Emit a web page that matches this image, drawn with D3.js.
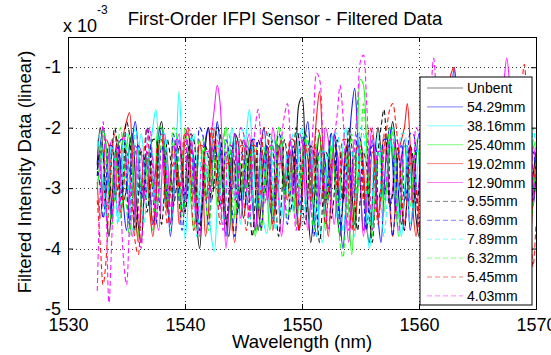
<!DOCTYPE html>
<html>
<head>
<meta charset="utf-8">
<script src="https://cdn.jsdelivr.net/npm/d3@7"></script>
<style>
  body { margin: 0; background: #fff; }
  svg { display: block; font-family: "Liberation Sans", Arial, sans-serif; }
</style>
</head>
<body>
<script>
// Wavelength sampling of the filtered traces (nm)
var wavelengthStart = 1532.5;
var wavelengthStep = 0.25;

// Legend names, one per trace
var seriesNames = ["Unbent", "54.29mm", "38.16mm", "25.40mm", "19.02mm", "12.90mm",
                   "9.55mm", "8.69mm", "7.89mm", "6.32mm", "5.45mm", "4.03mm"];

var xTicks = [1530, 1540, 1550, 1560, 1570];
var yTicks = [-1, -2, -3, -4, -5];

// Filtered intensity values, in units of 1e-3
var unbent = [
  -2.6,-2.0,-2.4,-3.3,-3.8,-3.2,-2.5,-2.2,-2.7,-3.2,
  -3.0,-2.3,-2.1,-2.8,-3.6,-3.9,-3.1,-2.4,-2.6,-3.0,
  -2.7,-2.1,-1.9,-2.5,-3.3,-3.6,-2.9,-2.5,-2.9,-3.4,
  -3.1,-2.4,-2.2,-2.8,-3.6,-4.0,-3.2,-2.3,-2.0,-2.5,
  -3.0,-2.8,-2.4,-2.7,-3.5,-3.8,-3.0,-2.1,-2.2,-2.9,
  -3.5,-3.1,-2.4,-2.2,-2.9,-3.7,-3.3,-2.5,-2.3,-2.8,
  -3.3,-2.9,-2.3,-2.5,-3.1,-2.8,-2.4,-2.9,-2.3,-1.6,
  -1.5,-2.3,-3.3,-3.9,-3.4,-2.5,-2.1,-2.8,-3.3,-2.7,
  -2.1,-2.5,-3.4,-3.8,-3.2,-2.4,-2.2,-3.0,-3.6,-3.0,
  -2.4,-2.8,-3.6,-3.9,-3.3,-2.4,-2.0,-2.4,-3.1,-2.9,
  -2.3,-1.9,-2.3,-3.1,-3.6,-3.2,-2.6,-2.3,-2.8,-3.5,
  -3.8,-3.2,-2.3,-2.0,-2.5,-3.3,-3.0,-2.5,-2.8,-3.3,
  -2.7,-2.1,-2.4,-3.1,-3.7,-3.3,-2.5,-2.2,-2.9,-3.6,
  -3.1,-2.4,-2.0,-2.6,-3.4,-3.1,-2.5,-2.8,-3.4,-2.8,
  -2.2,-1.9,-2.5,-3.4,-3.8,-3.1,-2.4,-2.6,-3.3,-2.8,-2.4];
var bent5429 = [
  -2.7,-2.3,-2.0,-2.3,-3.0,-3.5,-2.9,-2.3,-2.6,-3.3,
  -3.7,-3.1,-2.2,-1.9,-2.4,-3.2,-3.0,-2.5,-3.0,-3.6,
  -3.2,-2.4,-2.0,-2.3,-3.0,-3.8,-3.3,-2.5,-2.2,-2.6,
  -3.2,-2.8,-2.3,-2.5,-3.2,-3.6,-3.0,-2.2,-2.0,-2.6,
  -2.4,-1.9,-2.3,-3.2,-3.8,-3.3,-2.5,-2.1,-2.7,-3.2,
  -2.9,-2.3,-2.4,-3.2,-3.7,-3.1,-2.3,-2.0,-2.6,-3.3,
  -3.5,-3.0,-2.4,-2.6,-3.1,-2.8,-2.2,-2.5,-3.3,-3.7,
  -3.1,-2.2,-1.9,-2.6,-3.4,-3.8,-3.1,-2.3,-2.6,-3.2,
  -2.7,-2.1,-2.7,-3.5,-4.0,-3.3,-2.4,-1.7,-1.35,-2.1,
  -3.0,-3.7,-3.3,-2.5,-2.2,-2.8,-3.5,-3.9,-3.1,-2.3,
  -2.0,-2.6,-3.4,-3.1,-2.5,-2.2,-2.8,-3.7,-3.3,-2.5,
  -2.1,-2.4,-3.1,-3.6,-3.0,-2.3,-1.9,-2.1,-2.7,-3.3,
  -2.5,-1.6,-1.0,-1.7,-2.6,-3.5,-3.2,-2.5,-2.3,-2.9,
  -3.5,-3.0,-2.3,-2.5,-3.3,-3.8,-3.1,-2.2,-2.3,-2.9,
  -3.3,-2.8,-2.1,-2.4,-3.1,-3.6,-3.0,-2.4,-2.8,-3.3,-2.8];
var bent3816 = [
  -2.2,-2.4,-3.1,-3.5,-2.9,-2.2,-2.6,-3.5,-3.2,-2.4,
  -2.1,-2.8,-3.7,-3.3,-2.5,-2.1,-2.5,-3.1,-2.4,-2.0,
  -1.7,-2.3,-3.3,-3.2,-2.6,-2.9,-3.1,-2.3,-1.4,-2.5,
  -3.85,-3.3,-2.4,-2.1,-2.6,-3.4,-3.1,-2.6,-3.2,-3.8,
  -4.05,-3.3,-2.4,-2.5,-3.1,-2.7,-2.0,-2.3,-3.1,-3.6,
  -2.8,-2.1,-1.7,-2.3,-3.0,-3.4,-3.1,-3.6,-3.75,-3.0,
  -2.2,-2.3,-3.0,-3.5,-3.0,-2.4,-2.6,-3.4,-3.1,-2.3,
  -2.0,-2.8,-3.6,-3.2,-2.5,-2.9,-3.6,-3.9,-3.1,-2.4,
  -2.1,-2.7,-3.5,-3.1,-2.3,-2.0,-2.6,-3.5,-3.8,-3.0,
  -2.4,-2.8,-3.4,-4.0,-3.6,-2.6,-2.1,-2.5,-3.2,-3.0,
  -2.4,-2.0,-2.5,-3.4,-3.8,-3.1,-2.4,-2.7,-3.4,-3.0,
  -2.5,-2.7,-3.4,-2.8,-2.2,-2.5,-3.5,-3.2,-2.4,-1.9,
  -1.3,-1.8,-2.7,-3.5,-3.1,-2.4,-2.6,-3.3,-2.9,-2.2,
  -2.4,-3.3,-3.7,-3.0,-2.2,-2.4,-3.1,-2.9,-2.3,-2.6,
  -3.4,-3.8,-3.1,-2.3,-2.5,-3.2,-3.0,-2.2,-2.4,-3.1,-2.7];
var bent2540 = [
  -3.0,-2.5,-2.0,-2.3,-3.1,-3.0,-2.4,-2.6,-3.5,-3.0,
  -2.3,-2.1,-2.7,-3.5,-3.8,-3.1,-2.5,-2.8,-3.4,-3.7,
  -2.9,-2.0,-2.0,-2.8,-3.4,-2.9,-2.2,-2.5,-3.2,-2.7,
  -2.0,-2.4,-3.2,-3.7,-3.1,-2.3,-2.4,-3.2,-2.8,-2.1,
  -2.5,-3.3,-3.0,-2.2,-2.0,-2.7,-3.7,-3.4,-2.6,-2.6,
  -3.1,-2.6,-2.2,-2.9,-3.8,-3.4,-2.6,-2.3,-3.0,-3.7,
  -3.3,-2.4,-2.0,-2.5,-3.2,-2.9,-2.5,-2.9,-3.6,-3.2,
  -2.5,-2.1,-2.5,-3.3,-3.1,-2.3,-2.1,-2.9,-3.7,-3.1,
  -2.3,-2.7,-3.4,-3.0,-2.4,-2.5,-3.4,-4.1,-3.3,-2.1,
  -1.2,-1.3,-2.2,-3.2,-3.7,-3.1,-2.4,-2.6,-3.4,-2.9,
  -2.1,-2.4,-3.2,-3.8,-3.1,-2.3,-2.5,-3.3,-2.9,-2.2,
  -2.5,-3.4,-3.7,-3.0,-2.2,-2.4,-3.1,-2.8,-2.1,-2.5,
  -3.3,-3.6,-3.0,-2.4,-2.6,-3.4,-3.0,-2.2,-2.5,-3.3,
  -3.8,-3.1,-2.2,-2.4,-3.1,-2.9,-2.3,-2.6,-3.5,-3.0,
  -2.2,-2.5,-3.3,-3.9,-3.2,-2.3,-2.5,-3.1,-2.9,-2.2,-2.4];
var bent1902 = [
  -2.9,-3.5,-3.0,-2.2,-2.3,-3.2,-3.2,-2.5,-2.4,-2.1,
  -1.9,-1.75,-2.4,-3.3,-3.9,-3.3,-2.5,-2.6,-3.4,-3.8,
  -3.3,-2.3,-2.1,-2.9,-3.4,-2.9,-2.3,-2.7,-3.6,-3.1,
  -2.2,-2.0,-2.8,-3.3,-2.8,-2.2,-2.7,-3.8,-3.4,-2.4,
  -2.0,-2.6,-3.3,-3.1,-2.4,-2.6,-3.5,-3.9,-3.1,-2.3,
  -2.3,-2.9,-2.8,-2.2,-2.5,-3.3,-3.7,-3.0,-2.3,-2.7,
  -3.7,-3.3,-2.4,-2.2,-2.9,-3.2,-2.7,-2.4,-3.1,-3.7,
  -3.1,-2.3,-2.5,-3.1,-2.5,-1.8,-1.4,-2.2,-3.3,-3.8,
  -3.1,-2.3,-2.4,-3.2,-3.0,-2.3,-2.6,-3.4,-3.7,-3.0,
  -2.2,-2.6,-3.4,-3.1,-2.4,-2.6,-3.5,-2.9,-2.1,-2.4,
  -3.3,-3.8,-3.2,-2.4,-2.2,-2.0,-1.6,-2.3,-3.4,-3.8,
  -3.2,-2.3,-2.4,-3.2,-3.0,-2.4,-2.6,-3.3,-2.7,-2.1,
  -1.5,-1.1,-1.0,-1.8,-2.8,-3.5,-3.0,-2.3,-2.5,-3.4,
  -3.0,-2.2,-2.4,-3.2,-3.7,-3.1,-2.4,-2.5,-3.3,-3.0,
  -2.2,-2.3,-3.1,-3.6,-3.1,-2.4,-2.6,-3.4,-3.9,-3.1,-2.5];
var bent1290 = [
  -2.4,-2.6,-3.3,-3.1,-2.4,-2.2,-2.9,-3.4,-2.8,-2.1,
  -2.6,-3.5,-3.8,-3.1,-2.3,-2.4,-3.2,-3.0,-2.3,-2.5,
  -3.4,-3.7,-2.9,-2.1,-2.5,-3.3,-3.1,-2.3,-2.1,-2.9,
  -3.4,-2.8,-2.2,-2.6,-3.4,-3.8,-3.1,-2.4,-2.4,-2.1,
  -1.7,-1.3,-1.6,-2.8,-4.0,-3.4,-2.5,-2.1,-2.8,-3.5,
  -3.1,-2.3,-2.1,-2.9,-3.7,-3.2,-2.4,-2.5,-3.2,-2.9,
  -2.0,-2.3,-3.2,-3.8,-3.3,-2.5,-2.4,-3.1,-2.9,-2.1,
  -2.2,-3.1,-3.7,-3.2,-2.3,-2.4,-3.3,-3.0,-2.0,-2.2,
  -3.1,-3.6,-3.1,-2.4,-2.6,-3.4,-3.9,-3.1,-2.2,-2.3,
  -3.0,-3.8,-3.3,-2.4,-2.0,-2.5,-3.4,-3.2,-2.3,-2.5,
  -3.3,-3.0,-2.2,-2.3,-3.2,-3.7,-3.1,-2.4,-2.5,-3.2,
  -2.9,-2.0,-2.1,-2.9,-3.6,-3.1,-2.4,-2.6,-3.3,-2.9,
  -2.1,-2.3,-3.2,-3.7,-3.1,-2.3,-2.5,-3.3,-3.0,-2.3,
  -2.3,-3.2,-3.6,-3.0,-2.3,-2.5,-3.3,-2.6,-2.0,-1.3,
  -0.85,-1.3,-2.3,-3.4,-3.2,-2.4,-2.5,-3.4,-3.1,-2.3,-2.6];
var bent955 = [
  -2.8,-2.4,-2.5,-3.3,-3.2,-2.4,-2.0,-2.4,-3.2,-2.7,
  -1.9,-2.1,-3.1,-3.7,-3.2,-2.4,-2.5,-3.4,-3.0,-2.2,
  -2.2,-3.1,-3.6,-3.0,-2.2,-2.5,-3.3,-3.0,-2.3,-2.6,
  -3.4,-3.0,-2.1,-2.2,-3.1,-3.7,-3.2,-2.3,-2.5,-3.2,
  -2.9,-2.0,-2.1,-3.0,-3.6,-3.1,-2.3,-2.6,-3.4,-3.0,
  -2.2,-2.4,-3.2,-3.8,-3.2,-2.2,-2.4,-3.1,-2.9,-2.1,
  -2.3,-3.2,-3.8,-3.2,-2.2,-2.5,-3.4,-3.0,-2.0,-2.2,
  -3.1,-3.6,-3.1,-2.3,-2.4,-3.3,-3.9,-3.3,-2.4,-2.5,
  -3.5,-3.1,-2.2,-2.4,-3.2,-2.9,-2.0,-2.3,-3.2,-3.7,
  -3.1,-2.4,-2.6,-3.4,-3.9,-3.3,-2.4,-2.0,-1.7,-2.4,
  -3.3,-3.1,-2.3,-2.4,-3.2,-3.7,-3.1,-2.3,-2.5,-3.3,
  -3.0,-2.2,-2.4,-3.2,-3.6,-3.0,-2.2,-2.5,-3.3,-3.0,
  -2.0,-2.2,-3.1,-3.6,-3.1,-2.3,-2.6,-3.4,-2.9,-2.1,
  -2.3,-3.2,-3.8,-3.1,-2.2,-2.5,-3.3,-2.9,-2.1,-2.4,
  -3.2,-3.6,-3.0,-2.2,-2.5,-3.3,-2.9,-2.1,-2.4,-3.2,-2.8];
var bent869 = [
  -2.6,-3.0,-3.5,-3.1,-2.3,-2.3,-3.1,-3.0,-2.2,-2.2,
  -2.9,-3.6,-3.2,-2.4,-2.3,-3.1,-2.9,-2.0,-2.2,-3.1,
  -3.6,-3.1,-2.3,-2.5,-3.2,-2.9,-2.1,-2.4,-3.2,-3.7,
  -3.1,-2.2,-2.3,-3.1,-2.9,-2.0,-2.1,-3.0,-3.6,-3.1,
  -2.3,-2.5,-3.3,-3.0,-2.2,-2.4,-3.3,-3.8,-3.3,-2.4,
  -2.5,-3.3,-3.1,-2.2,-2.2,-3.1,-3.7,-3.1,-2.3,-2.5,
  -3.2,-3.0,-2.1,-2.2,-3.0,-3.6,-3.1,-2.3,-2.5,-3.3,
  -3.0,-2.1,-2.2,-3.1,-3.8,-3.3,-2.4,-2.4,-3.2,-3.0,
  -2.1,-2.1,-2.9,-3.6,-3.2,-2.4,-2.3,-3.2,-3.0,-2.1,
  -2.2,-3.1,-3.7,-3.2,-2.3,-2.3,-3.2,-3.0,-2.2,-2.2,
  -3.1,-3.8,-3.3,-2.4,-2.3,-3.2,-3.0,-2.1,-2.1,-3.0,
  -3.6,-3.2,-2.3,-2.4,-3.2,-3.0,-2.2,-2.2,-3.1,-3.7,
  -3.2,-2.3,-2.3,-3.2,-3.0,-2.0,-2.1,-3.0,-3.6,-3.1,
  -2.3,-2.4,-3.2,-3.0,-2.2,-2.2,-3.1,-3.7,-3.2,-2.3,
  -2.4,-3.2,-3.0,-2.1,-2.1,-3.0,-3.6,-3.2,-2.4,-2.4,-3.0];
var bent789 = [
  -2.3,-2.1,-2.6,-3.4,-3.0,-2.3,-2.6,-3.6,-3.1,-2.2,
  -2.4,-3.1,-2.9,-2.0,-2.3,-3.1,-3.6,-3.0,-2.2,-2.5,
  -3.3,-3.1,-2.1,-2.1,-3.0,-3.7,-3.2,-2.4,-2.5,-3.3,
  -3.0,-2.1,-2.2,-3.1,-3.8,-3.3,-2.4,-2.4,-3.1,-2.9,
  -2.0,-2.1,-3.0,-3.6,-3.2,-2.4,-2.4,-3.2,-3.0,-2.0,
  -2.1,-3.0,-3.6,-3.2,-2.4,-2.4,-3.2,-3.0,-2.1,-2.1,
  -3.0,-3.7,-3.2,-2.3,-2.3,-3.1,-3.0,-2.1,-2.1,-3.0,
  -3.6,-3.2,-2.4,-2.4,-3.2,-3.8,-3.3,-2.4,-2.4,-3.2,
  -3.0,-2.1,-2.1,-3.0,-3.7,-3.2,-2.4,-2.4,-3.2,-3.0,
  -2.0,-2.1,-3.0,-3.6,-3.2,-2.4,-2.4,-3.2,-3.8,-3.3,
  -2.3,-2.3,-3.1,-3.0,-2.1,-2.1,-3.0,-3.6,-3.2,-2.4,
  -2.4,-3.2,-3.0,-2.0,-2.1,-3.0,-3.6,-3.2,-2.4,-2.4,
  -3.2,-3.0,-2.1,-2.1,-3.0,-3.7,-3.2,-2.4,-2.4,-3.2,
  -3.0,-2.0,-2.1,-3.0,-3.6,-3.2,-2.4,-2.4,-3.2,-3.0,
  -2.1,-2.1,-3.0,-3.7,-3.2,-2.4,-2.4,-3.2,-3.0,-2.0,-2.3];
var bent632 = [
  -3.0,-2.6,-2.1,-2.4,-3.2,-3.6,-3.1,-2.3,-2.0,-2.5,
  -3.3,-3.8,-3.2,-2.3,-2.4,-3.0,-2.9,-2.5,-2.6,-3.0,
  -3.5,-3.1,-2.2,-2.3,-3.2,-3.0,-2.0,-2.1,-3.0,-3.5,
  -3.2,-2.7,-2.7,-3.0,-2.8,-2.2,-2.2,-3.1,-3.7,-3.2,
  -2.4,-2.3,-3.2,-3.0,-2.0,-2.1,-3.0,-3.5,-3.1,-2.6,
  -2.6,-3.0,-2.8,-2.3,-2.3,-3.1,-3.7,-3.2,-2.4,-2.3,
  -3.2,-3.0,-2.0,-2.1,-3.0,-3.5,-3.1,-2.7,-2.7,-3.0,
  -2.8,-2.2,-2.2,-3.1,-3.7,-3.2,-2.4,-2.3,-3.2,-3.0,
  -2.3,-2.6,-3.3,-3.9,-4.15,-3.4,-2.5,-2.1,-2.5,-3.1,
  -2.4,-1.6,-2.2,-3.2,-3.8,-3.2,-2.4,-2.3,-3.2,-3.0,
  -2.0,-2.1,-3.0,-3.5,-3.1,-2.6,-2.6,-3.0,-2.8,-2.3,
  -2.3,-3.1,-3.7,-3.2,-2.4,-2.3,-3.2,-3.0,-2.0,-2.1,
  -3.0,-3.5,-3.1,-2.6,-2.6,-3.0,-2.8,-2.2,-2.2,-3.1,
  -3.7,-3.2,-2.4,-2.3,-3.2,-3.0,-2.0,-2.1,-3.0,-3.5,
  -3.1,-2.6,-2.6,-3.0,-2.8,-2.3,-2.3,-3.1,-3.7,-3.2,-2.6];
var bent545 = [
  -3.2,-3.9,-4.6,-4.2,-3.2,-2.4,-2.1,-2.7,-3.4,-3.0,
  -2.4,-2.7,-3.3,-3.9,-4.1,-3.3,-2.4,-2.0,-2.7,-3.6,
  -3.2,-2.2,-2.2,-3.1,-3.6,-3.1,-2.6,-2.6,-3.0,-2.8,
  -2.1,-2.1,-2.9,-3.7,-3.2,-2.3,-2.3,-3.2,-3.0,-2.0,
  -2.2,-3.0,-3.6,-3.1,-2.6,-2.6,-3.0,-2.8,-2.2,-2.2,
  -3.1,-3.7,-3.2,-2.3,-2.3,-3.2,-3.0,-2.0,-2.1,-3.0,
  -3.6,-3.1,-2.6,-2.6,-3.0,-2.8,-2.2,-2.2,-3.1,-3.7,
  -3.2,-2.3,-2.3,-3.2,-3.0,-2.0,-2.1,-3.0,-3.6,-3.1,
  -2.6,-2.6,-3.0,-2.8,-2.2,-2.2,-3.1,-3.7,-3.2,-2.3,
  -2.3,-3.2,-3.0,-2.0,-2.1,-3.0,-3.6,-3.1,-2.4,-2.0,
  -1.7,-1.6,-1.9,-2.4,-3.0,-3.6,-3.1,-2.6,-2.6,-3.0,
  -3.7,-3.2,-2.3,-2.3,-3.2,-3.0,-2.0,-2.1,-3.0,-3.6,
  -3.1,-2.6,-2.6,-3.0,-2.8,-2.2,-2.2,-3.1,-3.7,-3.2,
  -2.3,-2.3,-3.2,-3.0,-2.0,-2.1,-3.0,-3.6,-3.1,-2.6,
  -2.6,-3.0,-2.8,-2.4,-2.0,-1.4,-0.95,-1.8,-3.2,-4.3,-3.6];
var bent403 = [
  -4.7,-3.0,-1.9,-3.2,-4.9,-3.8,-2.5,-2.3,-3.2,-4.2,
  -4.6,-3.6,-2.5,-2.3,-3.3,-4.0,-3.2,-2.3,-2.0,-2.7,
  -3.5,-3.0,-2.6,-2.6,-3.0,-3.6,-3.1,-2.2,-2.2,-3.1,
  -3.0,-2.0,-2.1,-3.0,-3.6,-3.1,-2.6,-2.6,-3.2,-2.9,
  -2.2,-2.2,-3.1,-3.7,-3.2,-2.3,-2.3,-3.2,-3.0,-2.0,
  -2.1,-3.0,-3.5,-2.7,-2.0,-1.7,-2.3,-3.3,-3.0,-2.3,
  -2.3,-3.1,-2.9,-2.2,-1.8,-1.6,-2.2,-3.2,-3.7,-2.9,
  -2.2,-2.4,-3.2,-2.6,-1.8,-1.1,-1.2,-2.1,-3.2,-3.7,
  -3.0,-2.2,-1.8,-1.3,-1.8,-2.8,-3.7,-3.1,-2.3,-1.6,
  -0.9,-0.8,-1.5,-2.6,-3.7,-3.2,-2.4,-2.4,-3.0,-2.8,
  -2.2,-2.2,-3.1,-3.7,-3.2,-2.3,-2.3,-3.2,-3.0,-2.0,
  -2.1,-3.0,-3.6,-2.5,-1.5,-0.85,-1.6,-2.7,-3.5,-3.0,
  -2.6,-2.6,-3.0,-2.8,-2.2,-2.2,-3.1,-3.7,-3.2,-2.3,
  -2.3,-3.2,-3.0,-2.0,-2.1,-3.0,-3.6,-3.1,-2.6,-2.6,
  -3.0,-2.8,-2.2,-2.2,-3.1,-3.7,-3.2,-2.3,-2.3,-3.2,-2.7];

var seriesValues = [unbent, bent5429, bent3816, bent2540, bent1902, bent1290,
                    bent955, bent869, bent789, bent632, bent545, bent403];
var seriesColors = ["#000000", "#0000ff", "#00ffff", "#00ff00", "#ff0000", "#ff00ff",
                    "#000000", "#0000ff", "#00ffff", "#00ff00", "#ff0000", "#ff00ff"];
var seriesDashed = [false, false, false, false, false, false,
                    true, true, true, true, true, true];

var svgWidth = 551;
var svgHeight = 355;
var margin = { top: 37, right: 15, bottom: 46, left: 68 };
var width = svgWidth - margin.left - margin.right;
var height = svgHeight - margin.top - margin.bottom;

var svg = d3.select("body").append("svg")
  .attr("width", svgWidth)
  .attr("height", svgHeight);

var x = d3.scaleLinear().domain([1530, 1570]).range([0, width]);
var y = d3.scaleLinear().domain([-5, -0.5]).range([height, 0]);

var chart = svg.append("g")
  .attr("transform", `translate(${margin.left},${margin.top})`);

svg.append("defs").append("clipPath").attr("id", "plotClip")
  .append("rect").attr("width", width).attr("height", height);

// dotted grid
chart.append("g").selectAll("line.vgrid")
  .data(xTicks.slice(1, -1))
  .enter().append("line")
  .attr("x1", d => Math.round(x(d)) + 0.5).attr("x2", d => Math.round(x(d)) + 0.5)
  .attr("y1", 0).attr("y2", height)
  .attr("stroke", "#333").attr("stroke-width", 1)
  .attr("stroke-dasharray", "1,3");
chart.append("g").selectAll("line.hgrid")
  .data(yTicks.slice(0, -1))
  .enter().append("line")
  .attr("y1", d => Math.round(y(d)) + 0.5).attr("y2", d => Math.round(y(d)) + 0.5)
  .attr("x1", 0).attr("x2", width)
  .attr("stroke", "#333").attr("stroke-width", 1)
  .attr("stroke-dasharray", "1,3");

// traces
var line = d3.line()
  .x((d, i) => x(wavelengthStart + i * wavelengthStep))
  .y(d => y(d))
  .curve(d3.curveCatmullRom);

chart.append("g").attr("clip-path", "url(#plotClip)")
  .selectAll("path")
  .data(seriesValues)
  .enter().append("path")
  .attr("d", d => line(d))
  .attr("fill", "none")
  .attr("stroke", (d, i) => seriesColors[i])
  .attr("stroke-width", 1.1)
  .attr("stroke-opacity", 0.9)
  .attr("stroke-dasharray", (d, i) => seriesDashed[i] ? "5,3" : null);

// axes (MATLAB style: ticks inside, on all four sides)
var fmt = d => String(d);
chart.append("g")
  .attr("transform", `translate(0,${height})`)
  .call(d3.axisBottom(x).tickValues(xTicks).tickFormat(fmt).tickSize(-5).tickPadding(9));
chart.append("g")
  .call(d3.axisLeft(y).tickValues(yTicks).tickFormat(fmt).tickSize(-5).tickPadding(7));
chart.append("g")
  .call(d3.axisTop(x).tickValues(xTicks).tickFormat("").tickSize(-5));
chart.append("g")
  .attr("transform", `translate(${width},0)`)
  .call(d3.axisRight(y).tickValues(yTicks).tickFormat("").tickSize(-5));

chart.selectAll(".domain").attr("stroke", "#000");
chart.selectAll(".tick line").attr("stroke", "#000");
chart.selectAll(".tick text")
  .attr("fill", "#000")
  .style("font-size", "18px")
  .style("font-family", "'Liberation Sans', Arial, sans-serif");

// exponent label
var expo = svg.append("text")
  .attr("x", 63).attr("y", 32)
  .style("font-size", "18px")
  .text("x 10");
expo.append("tspan")
  .attr("dy", -18)
  .style("font-size", "12px")
  .text("-3");

// title
svg.append("text")
  .attr("x", 285).attr("y", 25)
  .attr("text-anchor", "middle")
  .style("font-size", "18.5px")
  .text("First-Order IFPI Sensor - Filtered Data");

// axis labels
svg.append("text")
  .attr("x", margin.left + width / 2).attr("y", 348)
  .attr("text-anchor", "middle")
  .style("font-size", "18.5px")
  .text("Wavelength (nm)");
svg.append("text")
  .attr("transform", `translate(31,${margin.top + height / 2 - 1}) rotate(-90)`)
  .attr("text-anchor", "middle")
  .style("font-size", "18.5px")
  .text("Filtered Intensity Data (linear)");

// legend
var legend = svg.append("g").attr("transform", "translate(420,77)");
legend.append("rect")
  .attr("width", 112).attr("height", 228)
  .attr("fill", "#fff").attr("stroke", "#000").attr("stroke-width", 1);
var rows = legend.selectAll("g.row")
  .data(seriesNames)
  .enter().append("g")
  .attr("transform", (d, i) => `translate(0,${11 + i * 18.9})`);
rows.append("line")
  .attr("x1", 7).attr("x2", 43)
  .attr("stroke", (d, i) => seriesColors[i])
  .attr("stroke-opacity", 0.5)
  .attr("stroke-width", 1)
  .attr("stroke-dasharray", (d, i) => seriesDashed[i] ? "5,3" : null);
rows.append("text")
  .attr("x", 47).attr("y", 5)
  .style("font-size", "14px")
  .text(d => d);
</script>
</body>
</html>
